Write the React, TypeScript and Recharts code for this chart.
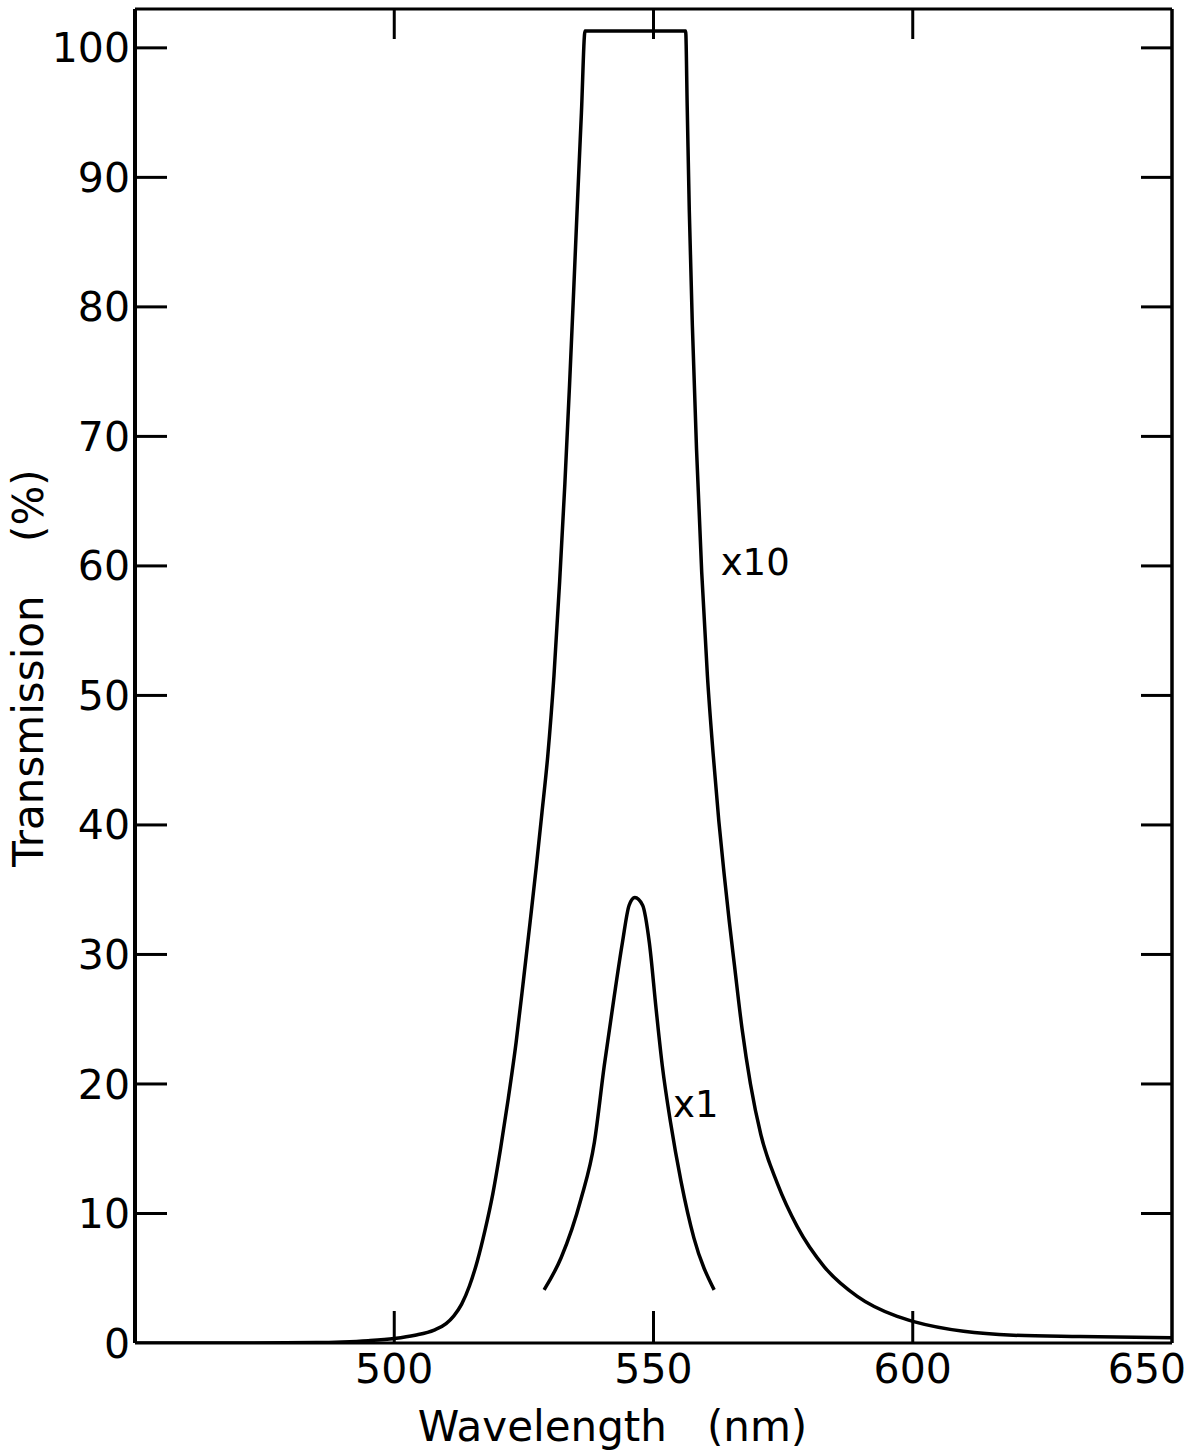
import React from 'react';
import { LineChart, Line, XAxis, YAxis, ReferenceDot } from 'recharts';

// x10 curve
const wavelengthsX10 = [450, 470, 485, 490, 495, 500, 504, 507.7, 510, 511.5, 513, 514.5, 516, 517.5, 519, 520.5, 522, 523.5, 525, 526.2, 527.4, 528.5, 529.6, 530.8, 531.9, 532.9, 533.8, 534.6, 535.4, 536.1, 536.8, 556.2, 556.5, 556.9, 557.5, 558.3, 559.3, 560.4, 561.5, 562.6, 563.6, 564.6, 565.6, 567.1, 568.7, 570.7, 573.9, 577.7, 582.9, 589.3, 597.0, 600.2, 609.8, 619.4, 632.3, 650];
const transmissionX10 = [0, 0, 0.03, 0.08, 0.18, 0.35, 0.6, 1.0, 1.5, 2.1, 3.0, 4.4, 6.3, 8.7, 11.5, 15.0, 18.9, 23.2, 28.3, 32.5, 36.8, 41.0, 45.3, 51.5, 58.8, 66.3, 73.9, 81.2, 88.7, 95.0, 101.3, 101.3, 95.5, 87.5, 78.5, 69.0, 59.5, 51.5, 45.5, 40.3, 36.3, 32.6, 29.2, 24.2, 20.0, 16.1, 12.3, 9.0, 5.9, 3.6, 2.05, 1.65, 0.9, 0.6, 0.5, 0.4];

// x1 curve
const wavelengthsX1 = [528.9, 532.2, 536.0, 538.6, 540.5, 542.4, 544.0, 545.3, 546.4, 547.9, 549.2, 550.5, 551.7, 553.3, 555.3, 557.8, 561.7];
const transmissionX1 = [4.1, 6.6, 11.1, 15.5, 21.4, 26.7, 30.9, 33.8, 34.4, 33.8, 30.9, 25.8, 21.4, 17.0, 12.5, 8.1, 4.1];

const xTickLabels = [500, 550, 600, 650];
const xInnerTicks = [500, 550, 600];
const yTickLabels = [0, 10, 20, 30, 40, 50, 60, 70, 80, 90, 100];
const yInnerTicks = [10, 20, 30, 40, 50, 60, 70, 80, 90, 100];

const xDomain: [number, number] = [450, 650];
const yDomain: [number, number] = [0, 103];

const x10Data = wavelengthsX10.map((wl, i) => ({ wl, t: transmissionX10[i] }));
const x1Data = wavelengthsX1.map((wl, i) => ({ wl, t: transmissionX1[i] }));

const FONT = '"DejaVu Sans", sans-serif';
const tickLineStyle = { stroke: '#000', strokeWidth: 3 };

const NoTick = () => <g />;

const BottomTick = (props: any) => {
  const { x, y, payload } = props;
  const shift = payload.value === 650 ? -25 : 0;
  return (
    <text x={x + shift} y={y} dy="0.75em" textAnchor="middle" fontSize={41} fontFamily={FONT} fill="#000">
      {payload.value}
    </text>
  );
};

const YTitle = (props: any) => {
  const vb = props.viewBox || { x: 0, y: 0, width: 0, height: 0 };
  const cx = vb.x + 28;
  const cy = vb.y + vb.height / 2 - 8;
  return (
    <text x={cx} y={cy} transform={`rotate(-90, ${cx}, ${cy})`} textAnchor="middle" dominantBaseline="central" fontSize={42} fontFamily={FONT} fill="#000">
      {'Transmission\u00A0\u00A0\u00A0\u00A0(%)'}
    </text>
  );
};

const XTitle = (props: any) => {
  const vb = props.viewBox || { x: 0, y: 0, width: 0, height: 0 };
  const cx = vb.x + vb.width / 2 - 41;
  const cy = vb.y + 98;
  return (
    <text x={cx} y={cy} textAnchor="middle" fontSize={42} fontFamily={FONT} fill="#000">
      {'Wavelength\u00A0\u00A0\u00A0(nm)'}
    </text>
  );
};

export default function App() {
  return (
    <div style={{ width: 1201, height: 1456, background: '#fff' }}>
      <style>{'body{margin:0;overflow:hidden;}'}</style>
      <LineChart width={1201} height={1456} margin={{ top: 9, right: 29, bottom: 0, left: 0 }}>
        <XAxis
          xAxisId="b"
          type="number"
          dataKey="wl"
          domain={xDomain}
          allowDataOverflow
          ticks={xTickLabels}
          orientation="bottom"
          height={113}
          tickLine={false}
          tickSize={0}
          tickMargin={9}
          axisLine={{ stroke: '#000', strokeWidth: 3 }}
          tick={BottomTick}
          label={{ content: XTitle }}
        />
        <XAxis
          xAxisId="bm"
          type="number"
          dataKey="wl"
          domain={xDomain}
          allowDataOverflow
          ticks={xInnerTicks}
          orientation="bottom"
          mirror
          tickSize={32}
          tickLine={tickLineStyle}
          axisLine={false}
          tick={NoTick}
        />
        <XAxis
          xAxisId="t"
          type="number"
          dataKey="wl"
          domain={xDomain}
          allowDataOverflow
          ticks={xInnerTicks}
          orientation="top"
          mirror
          tickSize={30}
          tickLine={tickLineStyle}
          axisLine={{ stroke: '#000', strokeWidth: 3 }}
          tick={NoTick}
        />
        <YAxis
          yAxisId="l"
          type="number"
          domain={yDomain}
          allowDataOverflow
          ticks={yTickLabels}
          width={135}
          tickLine={false}
          tickSize={0}
          tickMargin={5}
          axisLine={{ stroke: '#000', strokeWidth: 4 }}
          tick={{ fontSize: 41, fontFamily: FONT, fill: '#000' }}
          label={{ content: YTitle }}
        />
        <YAxis
          yAxisId="lm"
          type="number"
          domain={yDomain}
          allowDataOverflow
          ticks={yInnerTicks}
          mirror
          tickSize={32}
          tickLine={tickLineStyle}
          axisLine={false}
          tick={NoTick}
        />
        <YAxis
          yAxisId="r"
          type="number"
          orientation="right"
          domain={yDomain}
          allowDataOverflow
          ticks={yInnerTicks}
          mirror
          tickSize={31}
          tickLine={tickLineStyle}
          axisLine={{ stroke: '#000', strokeWidth: 3.5 }}
          tick={NoTick}
        />
        <Line
          xAxisId="b"
          yAxisId="l"
          data={x10Data}
          dataKey="t"
          type="monotone"
          stroke="#000"
          strokeWidth={3.5}
          dot={false}
          activeDot={false}
          isAnimationActive={false}
        />
        <Line
          xAxisId="b"
          yAxisId="l"
          data={x1Data}
          dataKey="t"
          type="monotone"
          stroke="#000"
          strokeWidth={3.5}
          dot={false}
          activeDot={false}
          isAnimationActive={false}
        />
        <ReferenceDot
          xAxisId="b"
          yAxisId="l"
          x={562}
          y={60.3}
          r={0}
          fill="none"
          stroke="none"
          label={{ value: 'x10', position: 'right', offset: 5, fontSize: 37, fontFamily: FONT, fill: '#000' }}
        />
        <ReferenceDot
          xAxisId="b"
          yAxisId="l"
          x={552.8}
          y={18.5}
          r={0}
          fill="none"
          stroke="none"
          label={{ value: 'x1', position: 'right', offset: 5, fontSize: 37, fontFamily: FONT, fill: '#000' }}
        />
      </LineChart>
    </div>
  );
}
